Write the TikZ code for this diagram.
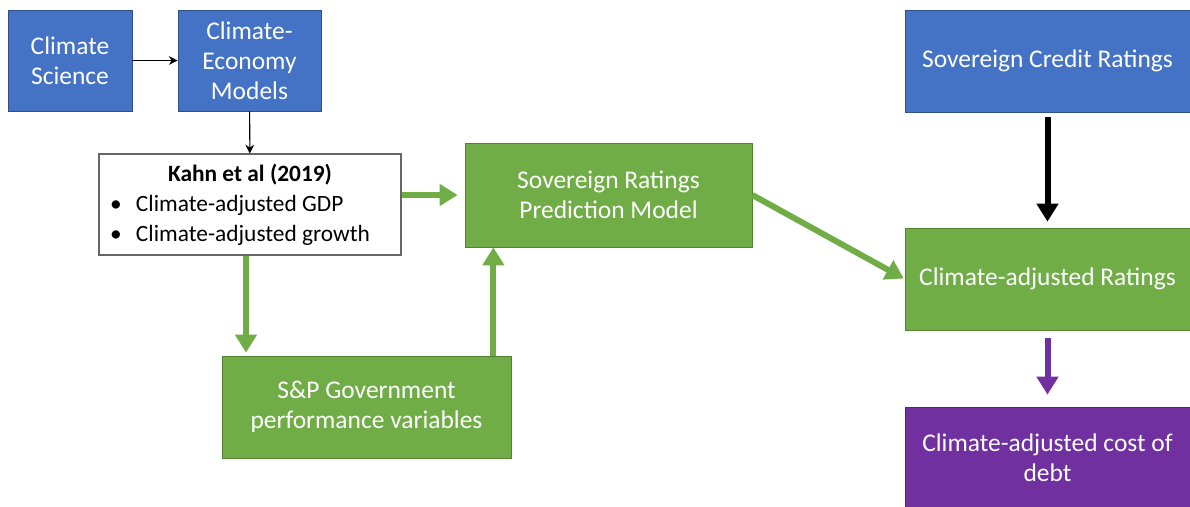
\documentclass[tikz,border=0pt]{standalone}
\usepackage{fontspec}
\setmainfont{Carlito}
\usetikzlibrary{arrows.meta,calc}
\definecolor{blu}{HTML}{4472C4}
\definecolor{grn}{HTML}{70AD47}
\definecolor{prp}{HTML}{7030A0}
\tikzset{
  box/.style={rectangle, inner sep=0pt, align=center, text=white,
    font=\fontsize{14.5}{17}\selectfont},
  blubox/.style={box, fill=blu, draw=blu!70!black, line width=0.4pt},
  grnbox/.style={box, fill=grn, draw=grn!75!black, line width=0.4pt},
  prpbox/.style={box, fill=prp, draw=prp!75!black, line width=0.4pt},
  thin arrow/.style={-{Stealth[length=5pt,width=5pt]}, line width=0.6pt},
  fat arrow/.style={-{Triangle[length=0.36cm,width=0.42cm]}, line width=0.12cm},
}
\begin{document}
\begin{tikzpicture}
      \useasboundingbox (0,0) rectangle (23.8,-10.12);
      \node[blubox, minimum width=2.48cm, minimum height=2.02cm] (clim) at (1.40,-1.21) {Climate\\Science};
      \node[blubox, minimum width=2.86cm, minimum height=2.02cm] (cem) at (4.99,-1.21) {Climate-\\Economy\\Models};
      \node[rectangle, draw=black!60, fill=white, line width=0.6pt, minimum width=6.04cm, minimum height=2.02cm,
        align=left, inner xsep=0.22cm, inner ysep=0pt, font=\fontsize{13.3}{17}\selectfont] (kahn) at (5.00,-4.09)
        {\makebox[5.6cm]{\bfseries Kahn et al (2019)}\\
         \makebox[0.52cm][l]{\textbullet}Climate-adjusted GDP\\
         \makebox[0.52cm][l]{\textbullet}Climate-adjusted growth};
      \node[grnbox, minimum width=5.74cm, minimum height=2.08cm] (srpm) at (12.17,-3.90) {Sovereign Ratings\\Prediction Model};
      \node[grnbox, minimum width=5.78cm, minimum height=2.04cm] (sp) at (7.33,-8.14) {S\&P Government\\performance variables};
      \node[blubox, minimum width=5.70cm, minimum height=2.04cm] (scr) at (20.95,-1.22) {Sovereign Credit Ratings};
      \node[grnbox, minimum width=5.70cm, minimum height=2.04cm] (car) at (20.95,-5.58) {Climate-adjusted Ratings};
      \node[prpbox, minimum width=5.70cm, minimum height=2.04cm] (cost) at (20.95,-9.16) {Climate-adjusted cost of\\debt};
      \coordinate (spup) at ($(sp.north east)+(-0.36,0)$);
      % thin connectors
      \draw[thin arrow] (clim) -- (cem);
      \draw[thin arrow] (cem) -- (kahn);
      % fat connectors
      \draw[fat arrow, grn] (kahn.east |- srpm.west) -- ([xshift=-0.14cm]srpm.west);
      \draw[fat arrow, grn] ([xshift=-0.08cm]kahn.south) -- ([xshift=-0.08cm,yshift=0.06cm]kahn.south |- sp.north);
      \draw[fat arrow, grn] (spup) -- (spup |- srpm.south);
      \draw[fat arrow, grn, shorten >=0.02cm] (srpm.east) -- (car.west);
      \draw[fat arrow, black, shorten <=0.1cm, shorten >=0.12cm] (scr.south) -- (car.north);
      \draw[fat arrow, prp, shorten <=0.16cm, shorten >=0.24cm] (car.south) -- (cost.north);
    \end{tikzpicture}
\end{document}
